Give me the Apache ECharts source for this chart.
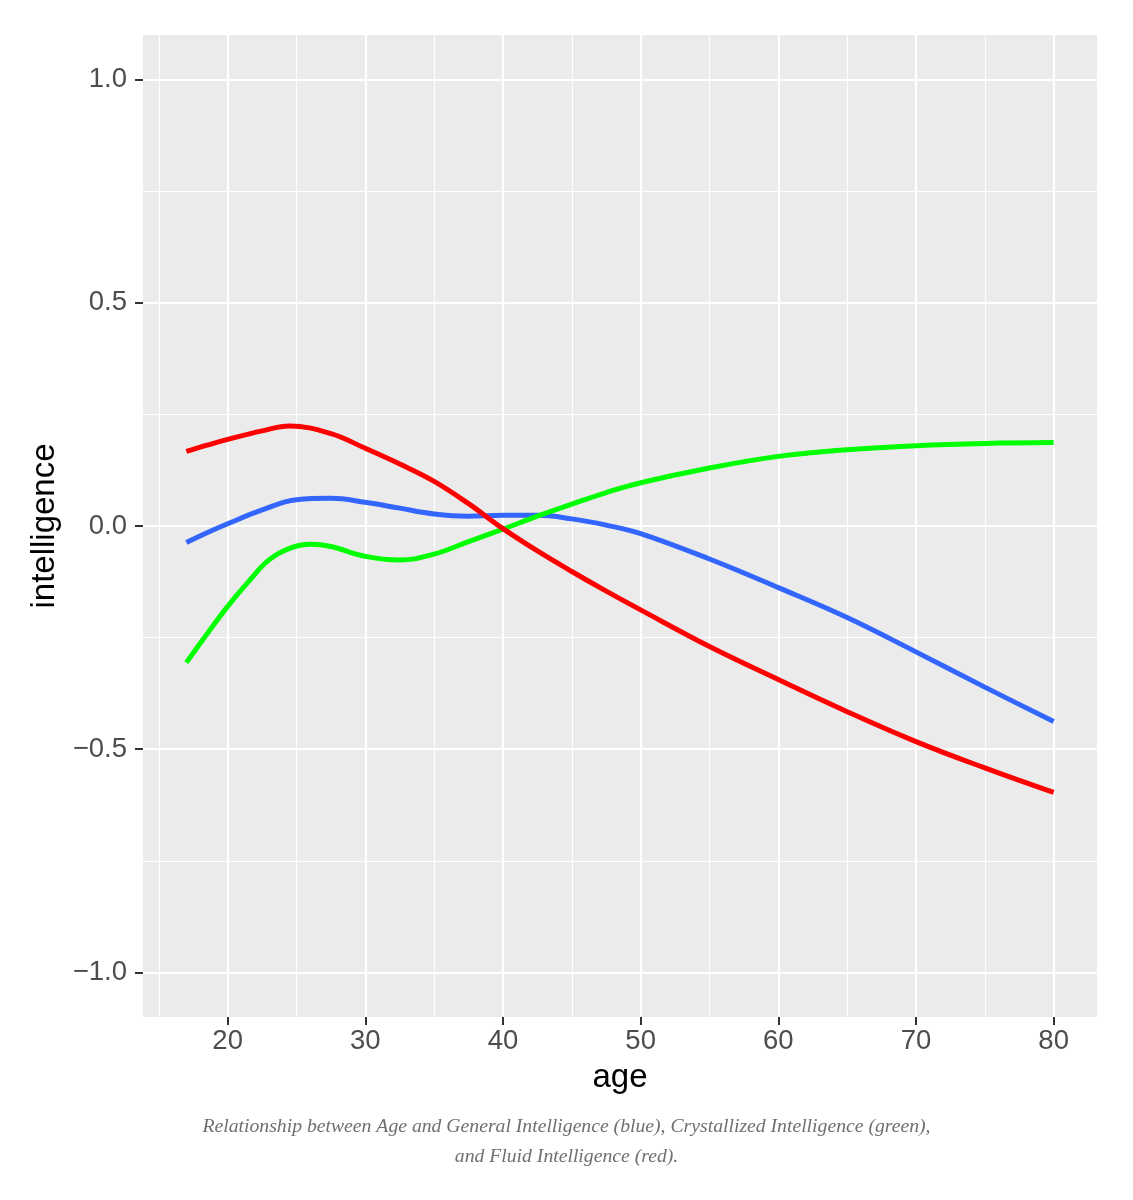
<!DOCTYPE html>
<html>
<head>
<meta charset="utf-8">
<script src="https://cdn.jsdelivr.net/npm/echarts@6/dist/echarts.min.js"></script>
<style>
html,body{margin:0;padding:0;background:#fff;}
#chart{width:1133px;height:1200px;}
</style>
</head>
<body>
<div id="chart"></div>
<script>
// ---- data ----
var xMajorTicks = [20, 30, 40, 50, 60, 70, 80];
var xMinorTicks = [15, 25, 35, 45, 55, 65, 75];
var yMajorTicks = [-1.0, -0.5, 0.0, 0.5, 1.0];
var yMinorTicks = [-0.75, -0.25, 0.25, 0.75];

var generalAge = [17, 18.5, 20, 22.5, 25, 27.5, 30, 32.5, 35, 37.5, 40, 42.5, 45, 47.5, 50, 55, 60, 65, 70, 75, 80];
var generalVal = [-0.037, -0.015, 0.005, 0.036, 0.059, 0.062, 0.053, 0.040, 0.027, 0.022, 0.024, 0.024, 0.016, 0.002, -0.017, -0.074, -0.138, -0.205, -0.282, -0.361, -0.438];

var crystAge = [17, 18.5, 20, 21.5, 23, 24.5, 26, 27.5, 30, 32.5, 35, 37.5, 40, 42.5, 45, 47.5, 50, 55, 60, 65, 70, 75, 80];
var crystVal = [-0.306, -0.242, -0.180, -0.125, -0.076, -0.050, -0.041, -0.046, -0.068, -0.076, -0.063, -0.035, -0.007, 0.022, 0.049, 0.075, 0.097, 0.130, 0.156, 0.171, 0.180, 0.185, 0.187];

var fluidAge = [17, 18.5, 20, 22.5, 24.5, 27.5, 30, 32.5, 35, 37.5, 40, 42.5, 45, 47.5, 50, 55, 60, 65, 70, 75, 80];
var fluidVal = [0.167, 0.181, 0.194, 0.213, 0.224, 0.207, 0.174, 0.139, 0.100, 0.050, -0.006, -0.056, -0.102, -0.146, -0.188, -0.270, -0.344, -0.416, -0.483, -0.542, -0.597];

var xMin = 13.85, xMax = 83.15, yMin = -1.1, yMax = 1.1;

function pairs(xs, ys) { return xs.map(function (x, i) { return [x, ys[i]]; }); }
function fmtY(v) { return (v < 0 ? '\u2212' : '') + Math.abs(v).toFixed(1); }

var chart = echarts.init(document.getElementById('chart'));
var option = {
  backgroundColor: '#ffffff',
  animation: false,
  title: {
    text: 'Relationship between Age and General Intelligence (blue), Crystallized Intelligence (green),\nand Fluid Intelligence (red).',
    left: 'center',
    top: 1107,
    textStyle: {
      fontFamily: 'Liberation Serif',
      fontStyle: 'italic',
      fontWeight: 'normal',
      fontSize: 19.7,
      lineHeight: 30,
      color: '#6f6f6f',
      align: 'center'
    }
  },
  grid: {
    left: 143, right: 36, top: 35, bottom: 183,
    show: true, backgroundColor: '#EBEBEB', borderWidth: 0
  },
  xAxis: [{
    type: 'value', min: xMin, max: xMax,
    name: 'age', nameLocation: 'middle', nameGap: 44,
    nameTextStyle: { fontFamily: 'Liberation Sans', fontSize: 33, color: '#000' },
    axisLine: { show: false, onZero: false },
    axisTick: { show: true, length: 8, customValues: xMajorTicks, lineStyle: { color: '#333333', width: 2 } },
    axisLabel: { customValues: xMajorTicks, margin: 10, fontFamily: 'Liberation Sans', fontSize: 27.5, color: '#4D4D4D' },
    splitLine: { show: true, lineStyle: { color: '#ffffff', width: 2.2 } }
  }, {
    type: 'value', min: xMin, max: xMax, position: 'bottom',
    axisLine: { show: false, onZero: false }, axisLabel: { show: false },
    axisTick: { show: false, customValues: xMinorTicks },
    splitLine: { show: true, lineStyle: { color: '#ffffff', width: 1.1 } }
  }],
  yAxis: [{
    type: 'value', min: yMin, max: yMax,
    name: 'intelligence', nameLocation: 'middle', nameGap: 80,
    nameTextStyle: { fontFamily: 'Liberation Sans', fontSize: 33, color: '#000' },
    axisLine: { show: false, onZero: false },
    axisTick: { show: true, length: 8, customValues: yMajorTicks, lineStyle: { color: '#333333', width: 2 } },
    axisLabel: { customValues: yMajorTicks, margin: 16, formatter: fmtY, fontFamily: 'Liberation Sans', fontSize: 27.5, color: '#4D4D4D' },
    splitLine: { show: true, lineStyle: { color: '#ffffff', width: 2.2 } }
  }, {
    type: 'value', min: yMin, max: yMax, position: 'left',
    axisLine: { show: false, onZero: false }, axisLabel: { show: false },
    axisTick: { show: false, customValues: yMinorTicks },
    splitLine: { show: true, lineStyle: { color: '#ffffff', width: 1.1 } }
  }],
  series: [{
    name: 'General', type: 'line', xAxisIndex: 0, yAxisIndex: 0,
    data: pairs(generalAge, generalVal), smooth: 0.4, showSymbol: false,
    lineStyle: { color: '#3366FF', width: 5 }
  }, {
    name: 'Crystallized', type: 'line', xAxisIndex: 0, yAxisIndex: 0,
    data: pairs(crystAge, crystVal), smooth: 0.4, showSymbol: false,
    lineStyle: { color: '#00FF00', width: 5 }
  }, {
    name: 'Fluid', type: 'line', xAxisIndex: 0, yAxisIndex: 0,
    data: pairs(fluidAge, fluidVal), smooth: 0.4, showSymbol: false,
    lineStyle: { color: '#FF0000', width: 5 }
  }]
};
chart.setOption(option);
</script>
</body>
</html>
